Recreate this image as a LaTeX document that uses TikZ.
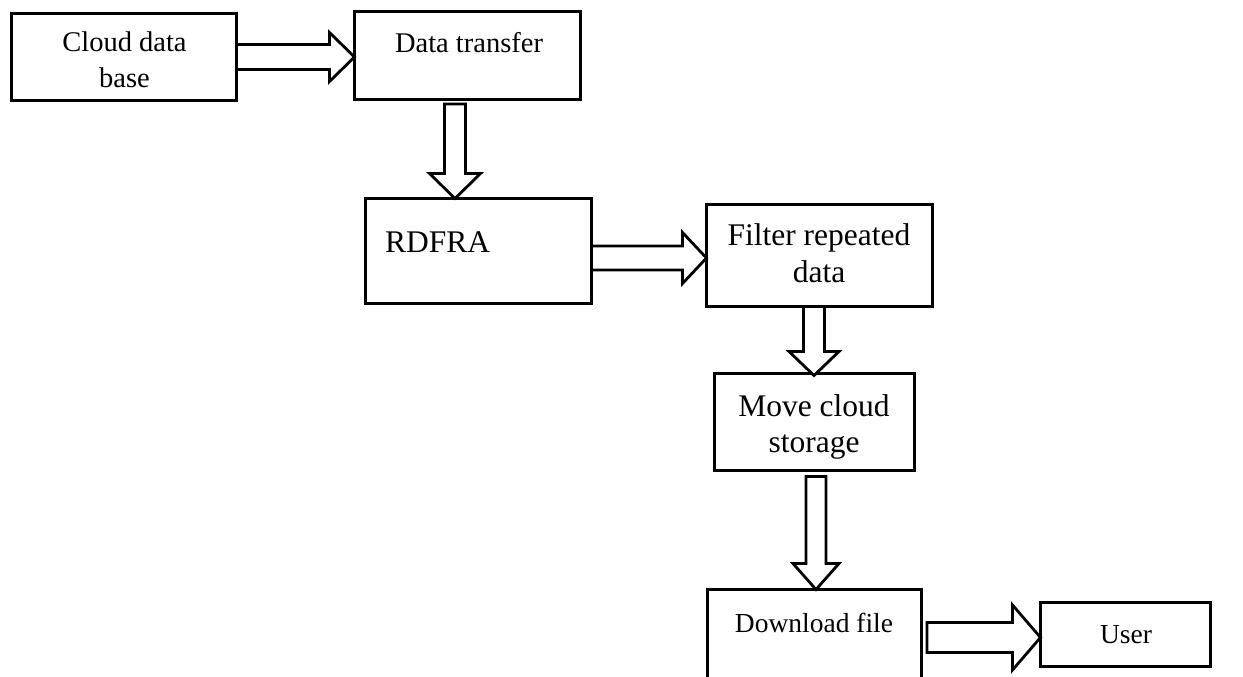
\documentclass[tikz,border=0pt]{standalone}
\usepackage{fontspec}
\setmainfont{Liberation Serif}
\usetikzlibrary{calc}

% Hollow block arrow from #1 to #2: shaft half-width #3, head half-width #4, head length #5
\newcommand{\blockarrow}[5]{%
  \coordinate (hb) at ($(#2)!#5!(#1)$);
  \draw[hollowarrow]
    ($(#1)!#3!90:(#2)$) -- ($(hb)!#3!90:(#2)$) -- ($(hb)!#4!90:(#2)$) -- (#2)
    -- ($(hb)!#4!-90:(#2)$) -- ($(hb)!#3!-90:(#2)$) -- ($(#1)!#3!-90:(#2)$) -- cycle;}

\tikzset{
  box/.style={draw=black, line width=3pt, fill=white, inner sep=0pt, outer sep=0pt},
  hollowarrow/.style={draw=black, line width=2.8pt, fill=white, line join=miter},
  lbl/.style={inner sep=0pt, outer sep=0pt, text=black},
  small/.style={font=\fontsize{28.5}{34}\selectfont},
  large/.style={font=\fontsize{31.5}{36}\selectfont},
  lower/.style={font=\fontsize{27.5}{33}\selectfont},
}

\begin{document}
\begin{tikzpicture}[x=1pt, y=-1pt]
\useasboundingbox (0,0) rectangle (1243,677);
\clip (0,0) rectangle (1243,677);

% boxes
\node[box, minimum width=225pt, minimum height=87pt]  (b1) at (124,57)      {};
\node[box, minimum width=226pt, minimum height=88pt]  (b2) at (467.5,55.5)  {};
\node[box, minimum width=226pt, minimum height=105pt] (b3) at (478.5,251)   {};
\node[box, minimum width=226pt, minimum height=102pt] (b4) at (819.5,255.5) {};
\node[box, minimum width=200pt, minimum height=97pt]  (b5) at (814.5,422)   {};
\node[box, minimum width=214pt, minimum height=90pt]  (b6) at (814.5,634.5) {};
\node[box, minimum width=170pt, minimum height=64pt]  (b7) at (1125.5,634.5){};

% labels
\node[lbl, small, anchor=base] (t1a) at (124.5,52) {Cloud data};
\node[lbl, small, anchor=base] (t1b) at (124.5,88) {base};
\node[lbl, small, anchor=base] (t2)  at (469,53)   {Data transfer};
\node[lbl, large, anchor=base west] (t3) at (385,252) {RDFRA};
\node[lbl, large, anchor=base] (t4a) at (819,245)  {Filter repeated};
\node[lbl, large, anchor=base] (t4b) at (819,282)  {data};
\node[lbl, large, anchor=base] (t5a) at (814,416)  {Move cloud};
\node[lbl, large, anchor=base] (t5b) at (814,452)  {storage};
\node[lbl, lower, anchor=base] (t6)  at (814,632)  {Download file};
\node[lbl, lower, anchor=base] (t7)  at (1126,643) {User};

% arrow end points
\coordinate (a1s) at (b1.east);
\coordinate (a1e) at (b2.west |- a1s);
\coordinate (a2s) at ($(b2.south)+(-12.5,4.5)$);
\coordinate (a2e) at (a2s |- b3.north);
\coordinate (a3s) at ($(b3.east)+(0,7)$);
\coordinate (a3e) at (b4.west |- a3s);
\coordinate (a4s) at ($(b4.south)+(-5.5,0)$);
\coordinate (a4e) at ($(a4s |- b5.north)+(0,2)$);
\coordinate (a5s) at ($(b5.south)+(1.5,6)$);
\coordinate (a5e) at (a5s |- b6.north);
\coordinate (a6s) at ($(b6.east)+(5.5,3)$);
\coordinate (a6e) at (b7.west |- a6s);

% connectors
\blockarrow{a1s}{a1e}{12.5pt}{24.5pt}{25pt}
\blockarrow{a2s}{a2e}{10.5pt}{25.5pt}{25pt}
\blockarrow{a3s}{a3e}{12pt}{25.5pt}{24pt}
\blockarrow{a4s}{a4e}{10.5pt}{25pt}{24pt}
\blockarrow{a5s}{a5e}{10pt}{23pt}{26pt}
\blockarrow{a6s}{a6e}{15pt}{32.5pt}{28pt}
\end{tikzpicture}
\end{document}
